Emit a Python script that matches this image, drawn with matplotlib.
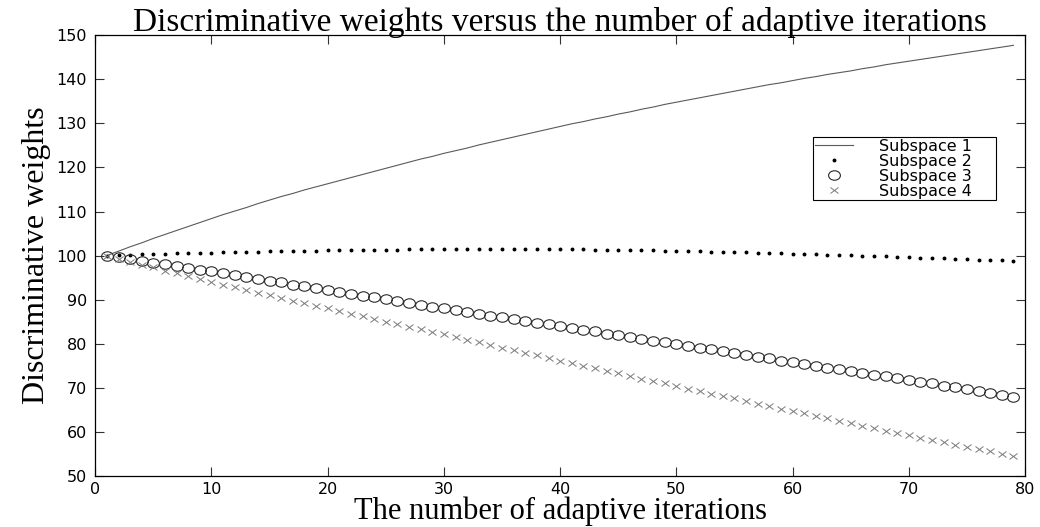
import matplotlib
matplotlib.use("Agg")
import matplotlib.pyplot as plt
from matplotlib.markers import MarkerStyle
from matplotlib.transforms import Affine2D

iterations = list(range(1, 80))

subspace1 = [
    100.0, 101.0, 102.0, 102.9, 103.9, 104.8, 105.7, 106.6, 107.5, 108.4,
    109.3, 110.1, 110.9, 111.8, 112.6, 113.4, 114.1, 114.9, 115.6, 116.3,
    117.0, 117.7, 118.4, 119.1, 119.8, 120.5, 121.2, 121.9, 122.5, 123.2,
    123.8, 124.4, 125.1, 125.7, 126.3, 126.9, 127.5, 128.1, 128.7, 129.3,
    129.9, 130.4, 131.0, 131.5, 132.1, 132.6, 133.2, 133.7, 134.3, 134.8,
    135.3, 135.8, 136.3, 136.8, 137.3, 137.8, 138.3, 138.8, 139.2, 139.7,
    140.2, 140.6, 141.1, 141.5, 141.9, 142.4, 142.8, 143.3, 143.7, 144.1,
    144.5, 144.9, 145.3, 145.7, 146.1, 146.5, 146.9, 147.3, 147.7,
]

subspace2 = [
    100.00, 100.10, 100.19, 100.27, 100.35, 100.42, 100.49, 100.56, 100.63, 100.69,
    100.75, 100.81, 100.86, 100.91, 100.96, 101.01, 101.06, 101.10, 101.14, 101.18,
    101.22, 101.26, 101.29, 101.32, 101.35, 101.38, 101.40, 101.42, 101.44, 101.46,
    101.47, 101.48, 101.49, 101.50, 101.50, 101.50, 101.49, 101.48, 101.46, 101.44,
    101.42, 101.39, 101.36, 101.33, 101.29, 101.25, 101.21, 101.16, 101.11, 101.06,
    101.01, 100.96, 100.90, 100.84, 100.78, 100.72, 100.66, 100.59, 100.52, 100.45,
    100.38, 100.31, 100.23, 100.15, 100.07, 99.99, 99.91, 99.83, 99.74, 99.65,
    99.56, 99.47, 99.38, 99.29, 99.19, 99.09, 98.99, 98.89, 98.79,
]

subspace3 = [
    100.0, 99.6, 99.2, 98.8, 98.4, 98.0, 97.6, 97.2, 96.8, 96.4,
    96.0, 95.6, 95.1, 94.7, 94.3, 93.9, 93.4, 93.0, 92.6, 92.2,
    91.8, 91.3, 90.9, 90.5, 90.1, 89.7, 89.2, 88.8, 88.4, 88.0,
    87.6, 87.2, 86.8, 86.4, 86.0, 85.6, 85.2, 84.8, 84.4, 84.0,
    83.6, 83.2, 82.8, 82.3, 81.9, 81.5, 81.1, 80.7, 80.3, 79.9,
    79.5, 79.1, 78.7, 78.3, 77.9, 77.5, 77.1, 76.7, 76.2, 75.8,
    75.4, 75.0, 74.6, 74.2, 73.8, 73.4, 73.0, 72.6, 72.2, 71.8,
    71.4, 71.0, 70.5, 70.1, 69.7, 69.3, 68.8, 68.4, 68.0,
]

subspace4 = [
    100.0, 99.3, 98.6, 97.9, 97.3, 96.6, 96.0, 95.3, 94.7, 94.0,
    93.4, 92.8, 92.2, 91.6, 91.0, 90.4, 89.8, 89.2, 88.6, 88.0,
    87.4, 86.8, 86.2, 85.6, 85.0, 84.5, 83.9, 83.3, 82.7, 82.1,
    81.5, 80.9, 80.3, 79.7, 79.1, 78.6, 78.0, 77.4, 76.8, 76.2,
    75.6, 75.0, 74.5, 73.9, 73.3, 72.7, 72.1, 71.6, 71.0, 70.4,
    69.8, 69.3, 68.7, 68.1, 67.6, 67.0, 66.4, 65.9, 65.3, 64.7,
    64.2, 63.6, 63.1, 62.5, 62.0, 61.4, 60.9, 60.3, 59.8, 59.2,
    58.7, 58.2, 57.7, 57.1, 56.6, 56.1, 55.6, 55.0, 54.5,
]

series_labels = ["Subspace 1", "Subspace 2", "Subspace 3", "Subspace 4"]
x_ticks = list(range(0, 81, 10))
y_ticks = list(range(50, 151, 10))

serif = ["Liberation Serif", "DejaVu Serif"]
sans = ["DejaVu Sans"]

fig = plt.figure(figsize=(10.4, 5.27), dpi=100)
ax = fig.add_axes([0.0916, 0.0968, 0.894, 0.8364])

# open ellipses and flattened crosses
oval = MarkerStyle("o", fillstyle="none", transform=Affine2D().scale(1.25, 1.0))
cross = MarkerStyle("x", transform=Affine2D().scale(1.35, 1.0))

ax.plot(iterations, subspace1, "-", color="#5a5a5a", lw=0.8, label=series_labels[0])
ax.plot(iterations, subspace2, linestyle="none", marker=".", ms=3.6, color="black",
        label=series_labels[1])
ax.plot(iterations, subspace3, linestyle="none", marker=oval, ms=6.8,
        markeredgecolor="#2a2a2a", markeredgewidth=0.8, label=series_labels[2])
ax.plot(iterations, subspace4, linestyle="none", marker=cross, ms=4.2,
        markeredgecolor="#7a7a7a", markeredgewidth=0.7, label=series_labels[3])

ax.set_xlim(0, 80)
ax.set_ylim(50, 150)
ax.set_xticks(x_ticks)
ax.set_yticks(y_ticks)
ax.tick_params(direction="in", top=True, right=True, length=6.5, width=0.8,
               color="#333333", labelsize=11.5, labelcolor="black")
ax.tick_params(axis="x", pad=4)
ax.tick_params(axis="y", pad=6)
for lab in ax.get_xticklabels() + ax.get_yticklabels():
    lab.set_family(sans)
for sp in ax.spines.values():
    sp.set_linewidth(0.9)
    sp.set_color("black")

ax.set_title("Discriminative weights versus the number of adaptive iterations",
             family=serif, fontsize=24, pad=3)
ax.set_xlabel("The number of adaptive iterations", family=serif, fontsize=22,
              labelpad=0)
ax.set_ylabel("Discriminative weights", family=serif, fontsize=23, labelpad=4)

leg = ax.legend(loc="upper left", bbox_to_anchor=(0.772, 0.628, 0.197, 0.141),
                mode="expand", borderaxespad=0,
                frameon=True, fancybox=False, shadow=False, framealpha=1,
                edgecolor="black", prop={"family": sans, "size": 11.5},
                handlelength=2.4, handletextpad=1.6, labelspacing=0.0,
                borderpad=0.1)
leg.get_frame().set_linewidth(0.8)

fig.savefig("out.png", dpi=100)
